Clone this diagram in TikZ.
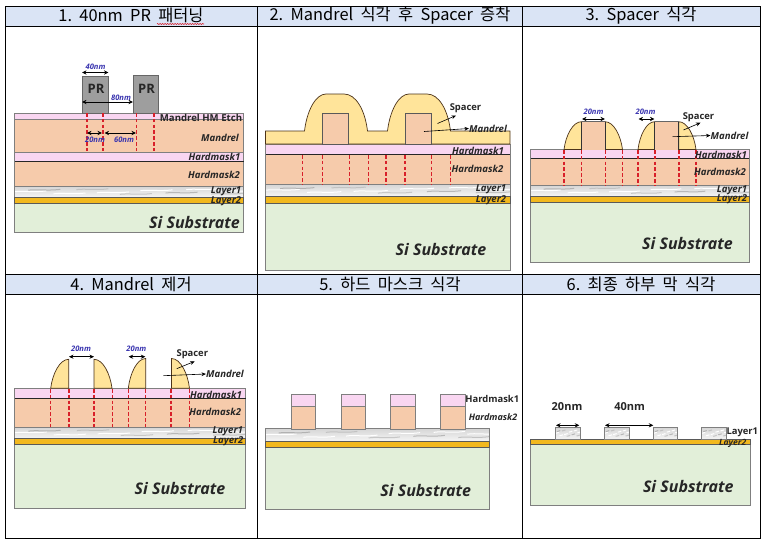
\documentclass[tikz,border=0pt]{standalone}
\usepackage{fontspec}
\setmainfont{Open Sans}
\newfontfamily\krfont{Noto Sans CJK KR}
\usetikzlibrary{arrows.meta,decorations.pathmorphing}
\definecolor{hdr}{HTML}{DAE4F5}
\definecolor{peach}{HTML}{F6CBAB}
\definecolor{pinkl}{HTML}{F9D6F1}
\definecolor{goldl}{HTML}{F2B81E}
\definecolor{greenl}{HTML}{E2EFD9}
\definecolor{spacerc}{HTML}{FFE49A}
\definecolor{edgeg}{HTML}{7F7F7F}
\definecolor{bluet}{HTML}{3A35B0}
\definecolor{redd}{HTML}{D8202A}
\tikzset{
 grid/.style={draw=black,line width=0.9pt},
 hdrbox/.style={fill=hdr,draw=none},
 title/.style={font=\krfont\fontsize{16.4}{16}\selectfont,inner sep=0pt,text=black},
 pe/.style={fill=peach,draw=edgeg,line width=0.6pt},
 pk/.style={fill=pinkl,draw=edgeg,line width=0.6pt},
 go/.style={fill=goldl,draw=black!65,line width=0.7pt},
 si/.style={fill=greenl,draw=edgeg,line width=0.8pt},
 sp/.style={fill=spacerc,draw=black!60!brown,line width=0.7pt},
 blk/.style={draw=black!85,line width=0.9pt},
 redcut/.style={draw=redd,line width=1.1pt,dash pattern=on 3.6pt off 2.2pt},
 pr/.style={fill=black!38,draw=black!60,line width=0.7pt},
 lab/.style={font=\bfseries\itshape\fontsize{9.6}{10}\selectfont,inner sep=0pt,text=black!85},
 labup/.style={font=\bfseries\fontsize{9.4}{10}\selectfont,inner sep=0pt,text=black!85},
 silab/.style={font=\bfseries\itshape\fontsize{16}{16}\selectfont,inner sep=0pt,text=black!85},
 dimt/.style={font=\bfseries\itshape\fontsize{7.6}{8}\selectfont,inner sep=0pt,text=bluet},
 dim/.style={{Stealth[length=4.5pt,width=4.2pt]}-{Stealth[length=4.5pt,width=4.2pt]},draw=black,line width=0.7pt},
 lead/.style={-{Stealth[length=4.5pt,width=3.8pt]},draw=black,line width=0.6pt},
}
% marble texture
\newcommand{\marble}[4]{%
 \begin{scope}
  \clip (#1,#2) rectangle (#3,#4);
  \shade[top color=black!16,bottom color=black!4] (#1,#2) rectangle (#3,#4);
  \foreach \f/\g/\c in {0.00/0.5/white,0.06/0.35/black!30,0.17/0.7/white,0.27/0.3/black!24,0.36/0.6/white,0.46/0.75/black!22,0.55/0.4/white,0.66/0.62/black!28,0.75/0.3/white,0.86/0.72/black!24,0.90/0.45/white}{%
   \draw[\c,line width=1pt] ({#1+\f*(#3-#1)},{#2+\g*(#4-#2)}) .. controls ({#1+(\f+0.04)*(#3-#1)},{#2+(\g-0.12)*(#4-#2)}) and ({#1+(\f+0.08)*(#3-#1)},{#2+(\g+0.08)*(#4-#2)}) .. ({#1+(\f+0.14)*(#3-#1)},{#2+(\g-0.08)*(#4-#2)});
  }
 \end{scope}
 \draw[edgeg,line width=0.6pt] (#1,#2) rectangle (#3,#4);}
% left curved spacer / right curved spacer
\newcommand{\spL}[4]{\draw[sp] (#1,#4) .. controls ({#1+0.1*(#2-#1)},{#3+0.5*(#4-#3)}) and ({#1+0.5*(#2-#1)},#3) .. (#2,#3) -- (#2,#4) -- cycle;}
\newcommand{\spR}[4]{\draw[sp] (#2,#4) .. controls ({#2-0.1*(#2-#1)},{#3+0.5*(#4-#3)}) and ({#2-0.5*(#2-#1)},#3) .. (#1,#3) -- (#1,#4) -- cycle;}
% lower stack: x1 x2 y-hm1top y-hm1bot y-hm2bot y-l1bot y-l2bot y-sibot
\newcommand{\stackall}[8]{%
 \draw[pk] (#1,#3) rectangle (#2,#4);
 \draw[pe] (#1,#4) rectangle (#2,#5);
 \draw[blk] (#1,#4) -- (#2,#4);
 \marble{#1}{#5}{#2}{#6}
 \draw[si] (#1,#7) rectangle (#2,#8);
 \draw[go] (#1,#6) rectangle (#2,#7);}
\begin{document}
\begin{tikzpicture}[x=1pt,y=-1pt]
\useasboundingbox (0,0) rectangle (766,546);
\fill[white] (0,0) rectangle (766,546);
% headers
\fill[hdrbox] (5.5,6.5) rectangle (760,26);
\fill[hdrbox] (5.5,274.5) rectangle (760,294);

% ===== Panel 1
\draw[pk] (14.5,113) rectangle (243.5,119.5);
\draw[pe] (14.5,119.5) rectangle (243.5,152.5);
\stackall{14.5}{243.5}{152.5}{161}{186.5}{197}{203}{232}
\draw[pr] (82,76) rectangle (108.5,113);
\draw[pr] (133,75) rectangle (158.5,113);
\node[font=\bfseries\fontsize{13}{13}\selectfont,text=black!85,inner sep=0pt] (pra) at (96,89) {PR};
\node[font=\bfseries\fontsize{13}{13}\selectfont,text=black!85,inner sep=0pt] (prb) at (146.5,88.5) {PR};
\foreach \x in {87,103,136.5,154}{\draw[redcut] (\x,113) -- (\x,152.5);}
\coordinate (a1) at (82,72.5); \coordinate (a2) at (108.5,72.5);
\coordinate (b1) at (82,102); \coordinate (b2) at (133,102);
\coordinate (c1) at (87,133); \coordinate (c2) at (102,133);
\coordinate (d1) at (104.5,133); \coordinate (d2) at (136,133);
\draw[dim] (a1) -- (a2); \draw[dim] (b1) -- (b2); \draw[dim] (c1) -- (c2); \draw[dim] (d1) -- (d2);
\node[dimt] (t40) at (95.5,66.5) {40nm};
\node[dimt] (t80) at (121,97.5) {80nm};
\node[dimt] (t20) at (95,140) {20nm};
\node[dimt] (t60) at (124,140) {60nm};
\node[lab,font=\bfseries\fontsize{9.6}{10}\selectfont] (l1a) at (201,118) {Mandrel HM Etch};
\node[lab] (l1b) at (220,137.5) {Mandrel};
\node[lab] (l1c) at (214.5,157) {Hardmask1};
\node[lab] (l1d) at (214,175) {Hardmask2};
\node[lab] (l1e) at (226,191.5) {Layer1};
\node[lab] (l1f) at (226,201) {Layer2};
\node[silab] (l1g) at (194.5,222) {Si Substrate};

% ===== Panel 2
\stackall{265.5}{510}{144}{154.5}{184.5}{196}{203}{270}
\draw[sp] (265.5,144) -- (265.5,131) -- (304.5,131)
  .. controls (307,110) and (316,94) .. (326,94) -- (344,94)
  .. controls (356,94) and (365,110) .. (367.5,131) -- (387.5,131)
  .. controls (390,110) and (399,94) .. (409,94) -- (427,94)
  .. controls (439,94) and (448,110) .. (450.5,131) -- (510,131) -- (510,144) -- cycle;
\draw[pe,draw=black!65,line width=0.7pt] (322.3,113.5) rectangle (348.7,144);
\draw[pe,draw=black!65,line width=0.7pt] (405,113.5) rectangle (431.7,144);
\foreach \x in {302.7,322.3,349.7,368.3,386,405,431.7,450.3}{\draw[redcut] (\x,155) -- (\x,184.5);}
\node[labup] (l2s) at (465.5,108) {Spacer};
\node[lab] (l2m) at (488,128.5) {Mandrel};
\node[lab] (l2c) at (478,151) {Hardmask1};
\node[lab] (l2d) at (477.5,169) {Hardmask2};
\node[lab] (l2e) at (491,189.5) {Layer1};
\node[lab] (l2f) at (491,200) {Layer2};
\node[silab] (l2g) at (441,249) {Si Substrate};
\coordinate (s2a) at (437.5,123.5); \coordinate (s2b) at (456,115.5);
\coordinate (m2a) at (424,131.5);
\draw[lead] (s2a) -- (s2b);
\draw[lead] (m2a) -- (l2m.west);

% ===== Panel 3
\stackall{530.5}{749}{149.5}{158.5}{185.5}{196}{202}{262}
\spL{564}{581.5}{121.7}{149.5}
\spR{605}{622.5}{121.7}{149.5}
\spL{638}{654.7}{121.7}{149.5}
\spR{678.7}{696}{121.7}{149.5}
\draw[pe,draw=none] (581.5,121.7) rectangle (605,149.5);
\draw[pe,draw=none] (654.7,121.7) rectangle (678.7,149.5);
\draw[black!80,line width=0.9pt] (581.5,121.7) -- (581.5,149.5);
\draw[black!80,line width=0.9pt] (605,121.7) -- (605,149.5);
\draw[black!80,line width=0.9pt] (654.7,121.7) -- (654.7,149.5);
\draw[black!80,line width=0.9pt] (678.7,121.7) -- (678.7,149.5);
\draw[black!60,line width=0.6pt] (581.5,121.7) -- (605,121.7) (654.7,121.7) -- (678.7,121.7);
\foreach \x in {564,581.5,605.5,622.5,638,655,679,696}{\draw[redcut] (\x,150) -- (\x,185.5);}
\coordinate (e1) at (582,119); \coordinate (e2) at (605,119);
\coordinate (f1) at (638.5,119); \coordinate (f2) at (654.5,119);
\draw[dim] (e1) -- (e2); \draw[dim] (f1) -- (f2);
\node[dimt] (t3a) at (593.5,111.7) {20nm};
\node[dimt] (t3b) at (645.5,111.3) {20nm};
\node[labup] (l3s) at (698.5,117.3) {Spacer};
\node[lab] (l3m) at (729.5,135.5) {Mandrel};
\node[lab] (l3c) at (721,155) {Hardmask1};
\node[lab] (l3d) at (720,171.7) {Hardmask2};
\node[lab] (l3e) at (732,190) {Layer1};
\node[lab] (l3f) at (732,199) {Layer2};
\node[silab] (l3g) at (687.5,243.5) {Si Substrate};
\coordinate (s3a) at (683.5,130); \coordinate (s3b) at (700.5,122.7);
\coordinate (m3a) at (672.5,136.7);
\draw[lead] (s3a) -- (s3b);
\draw[lead] (m3a) -- (l3m.west);

% ===== Panel 4
\stackall{14.5}{245.5}{388.3}{398.7}{427.3}{438.3}{444.7}{508.3}
\spL{50.7}{68.7}{359.3}{388.3}
\spR{94}{112}{359.3}{388.3}
\spL{128.3}{145.7}{358.5}{388.3}
\spR{171.5}{189.5}{358.5}{388.3}
\foreach \x in {50.3,69,94,112.3,128.7,145.7,171,189.7}{\draw[redcut] (\x,389) -- (\x,427.3);}
\coordinate (g1) at (69,356.7); \coordinate (g2) at (94,356.7);
\coordinate (h1) at (128.7,356.7); \coordinate (h2) at (145.3,356.7);
\draw[dim] (g1) -- (g2); \draw[dim] (h1) -- (h2);
\node[dimt] (t4a) at (81,349) {20nm};
\node[dimt] (t4b) at (136.3,349) {20nm};
\node[labup] (l4s) at (192.3,354.7) {Spacer};
\node[lab] (l4m) at (225,374) {Mandrel};
\node[lab] (l4c) at (216,395) {Hardmask1};
\node[lab] (l4d) at (215.3,412.3) {Hardmask2};
\node[lab] (l4e) at (227.7,431.7) {Layer1};
\node[lab] (l4f) at (228.3,441.3) {Layer2};
\node[silab] (l4g) at (180,488.3) {Si Substrate};
\coordinate (s4a) at (176.7,368.7); \coordinate (s4b) at (194.7,361.3);
\coordinate (m4a) at (163.3,375.7);
\draw[lead] (s4a) -- (s4b);
\draw[lead] (m4a) -- (l4m.west);

% ===== Panel 5
\marble{265.3}{428.7}{489.7}{441}
\draw[si] (265.3,447.7) rectangle (489.7,509.3);
\draw[go] (265.3,441) rectangle (489.7,447.7);
\foreach \x/\w in {291/315.7,341/365.7,390.7/415.3,440.7/465.3}{%
 \draw[pe,line width=0.8pt] (\x,406) rectangle (\w,429);
 \draw[pk,line width=0.8pt] (\x,394.7) rectangle (\w,406);
}
\node[labup] (l5c) at (492.3,398.7) {Hardmask1};
\node[lab,font=\bfseries\itshape\fontsize{9}{10}\selectfont] (l5d) at (493,417.3) {Hardmask2};
\node[silab] (l5g) at (425.7,490) {Si Substrate};

% ===== Panel 6
\draw[si] (530.3,444.7) rectangle (750.7,505.3);
\draw[go] (530.3,439.3) rectangle (750.7,444.7);
\foreach \x/\w in {555.3/580,604.3/629,653.3/677.7,701.7/726.7}{\marble{\x}{427.3}{\w}{439.3}}
\coordinate (j1) at (556,425.3); \coordinate (j2) at (579.3,425.3);
\coordinate (k1) at (605,425.3); \coordinate (k2) at (653.3,425.3);
\draw[dim,line width=0.9pt] (j1) -- (j2); \draw[dim,line width=0.9pt] (k1) -- (k2);
\node[labup,font=\bfseries\fontsize{11}{11}\selectfont] (t6a) at (567,406.7) {20nm};
\node[labup,font=\bfseries\fontsize{11}{11}\selectfont] (t6b) at (629.7,406.7) {40nm};
\node[labup] (l6e) at (742.3,432.3) {Layer1};
\node[lab,font=\bfseries\itshape\fontsize{8.6}{9}\selectfont] (l6f) at (732.7,443.7) {Layer2};
\node[silab] (l6g) at (688.3,486.7) {Si Substrate};

% grid
\draw[grid] (5.5,6.5) rectangle (760,538);
\draw[grid] (5.5,26) -- (760,26);
\draw[grid] (5.5,274.5) -- (760,274.5);
\draw[grid] (5.5,294) -- (760,294);
\draw[grid] (257.7,6.5) -- (257.7,538);
\draw[grid] (522.7,6.5) -- (522.7,538);

% titles
\node[title] (h1) at (131,15.5) {1.\ \ 40nm\ \ PR\ \ 패터닝};
\draw[redd,line width=0.6pt,decorate,decoration={zigzag,segment length=2.5pt,amplitude=0.5pt}] (157,24) -- (204,24);
\node[title] (h2) at (390,15.5) {2.\ \ Mandrel\ \ 식각\ \ 후\ \ Spacer\ \ 증착};
\node[title] (h3) at (641,15.5) {3.\ \ Spacer\ \ 식각};
\node[title] (h4) at (131,284) {4.\ \ Mandrel\ \ 제거};
\node[title] (h5) at (390,284) {5.\ \ 하드\ \ 마스크\ \ 식각};
\node[title] (h6) at (641,284) {6.\ \ 최종\ \ 하부\ \ 막\ \ 식각};
\end{tikzpicture}
\end{document}
